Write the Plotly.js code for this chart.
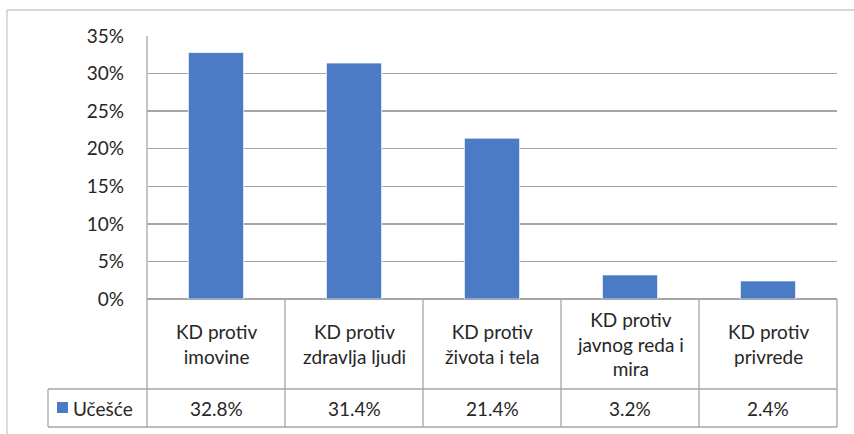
<!DOCTYPE html>
<html>
<head>
<meta charset="utf-8">
<script src="https://cdn.plot.ly/plotly-3.0.1.min.js"></script>
<style>html,body{margin:0;padding:0;background:#fff;}#chart{width:854px;height:434px;}</style>
</head>
<body>
<div id="chart"></div>
<script>
const categories = ["KD protiv<br>imovine", "KD protiv<br>zdravlja ljudi", "KD protiv<br>života i tela", "KD protiv<br>javnog reda i<br>mira", "KD protiv<br>privrede"];
const values = [0.328, 0.314, 0.214, 0.032, 0.024];
const valueLabels = ["32.8%", "31.4%", "21.4%", "3.2%", "2.4%"];
const seriesName = "Učešće";
const tickVals = [0, 0.05, 0.10, 0.15, 0.20, 0.25, 0.30, 0.35];
const tickText = ["0%", "5%", "10%", "15%", "20%", "25%", "30%", "35%"];

const W = 854, H = 434, L = 147, R = 17, T = 36, B = 135;
const pw = W - L - R, ph = H - T - B;
const px = x => (x - L) / pw;
const py = y => (H - B - y) / ph;

const barColor = "#4a7bc4";
const lineColor = "#a6a6a6";
const textColor = "#262626";
const font = "Lato, 'Open Sans', sans-serif";

const xIdx = categories.map((_, i) => i);

const trace = {
  type: "bar",
  x: xIdx,
  y: values,
  name: seriesName,
  marker: { color: barColor, line: { color: "rgba(255,255,255,0.7)", width: 1 } },
  width: 0.4,
  hoverinfo: "skip",
  showlegend: false
};

const shapes = [];
const annotations = [];
const lineStyle = { color: lineColor, width: 1.3 };
// table horizontal lines
shapes.push({ type: "line", xref: "paper", yref: "paper", x0: px(48), x1: 1, y0: py(389), y1: py(389), line: lineStyle });
shapes.push({ type: "line", xref: "paper", yref: "paper", x0: px(48), x1: 1, y0: py(427), y1: py(427), line: lineStyle });
// table verticals
for (let i = 0; i <= categories.length; i++) {
  const xf = i / categories.length;
  shapes.push({ type: "line", xref: "paper", yref: "paper", x0: xf, x1: xf, y0: (i === 0 ? 1 : 0), y1: py(427), line: lineStyle });
}
shapes.push({ type: "line", xref: "paper", yref: "paper", x0: px(48), x1: px(48), y0: py(389), y1: py(427), line: lineStyle });
// outer chart border
shapes.push({ type: "line", xref: "paper", yref: "paper", x0: px(7), x1: px(7), y0: py(10), y1: py(440), line: { color: "#c8c8c8", width: 1.3 } });
shapes.push({ type: "line", xref: "paper", yref: "paper", x0: px(7), x1: px(860), y0: py(10), y1: py(10), line: { color: "#c8c8c8", width: 1.3 } });
// legend key square
shapes.push({ type: "rect", xref: "paper", yref: "paper", x0: px(57), x1: px(68), y0: py(402), y1: py(413), fillcolor: barColor, line: { width: 0 } });

categories.forEach((c, i) => {
  annotations.push({ x: i, xref: "x", y: py(344), yref: "paper", text: c, showarrow: false, xanchor: "center", yanchor: "middle", align: "center", font: { family: font, size: 19, color: textColor } });
  annotations.push({ x: i, xref: "x", y: py(408), yref: "paper", text: valueLabels[i], showarrow: false, xanchor: "center", yanchor: "middle", font: { family: font, size: 19, color: textColor } });
});
annotations.push({ x: px(71), xref: "paper", y: py(408), yref: "paper", text: seriesName, showarrow: false, xanchor: "left", yanchor: "middle", font: { family: font, size: 19, color: textColor } });

const layout = {
  width: W, height: H,
  margin: { l: L, r: R, t: T, b: B, pad: 0 },
  paper_bgcolor: "#ffffff",
  plot_bgcolor: "#ffffff",
  showlegend: false,
  font: { family: font, size: 19, color: textColor },
  xaxis: { range: [-0.5, categories.length - 0.5], showticklabels: false, showgrid: false, zeroline: false, showline: false, ticks: "", fixedrange: true },
  yaxis: { range: [0, 0.35], tickvals: tickVals, ticktext: tickText, showgrid: true, gridcolor: lineColor, gridwidth: 1.5, zeroline: true, zerolinecolor: lineColor, zerolinewidth: 1.5, showline: false, ticks: "", ticklabelstandoff: 22, tickfont: { family: font, size: 19, color: textColor }, fixedrange: true },
  shapes: shapes,
  annotations: annotations
};

Plotly.newPlot("chart", [trace], layout, { displayModeBar: false, staticPlot: true });
</script>
</body>
</html>
